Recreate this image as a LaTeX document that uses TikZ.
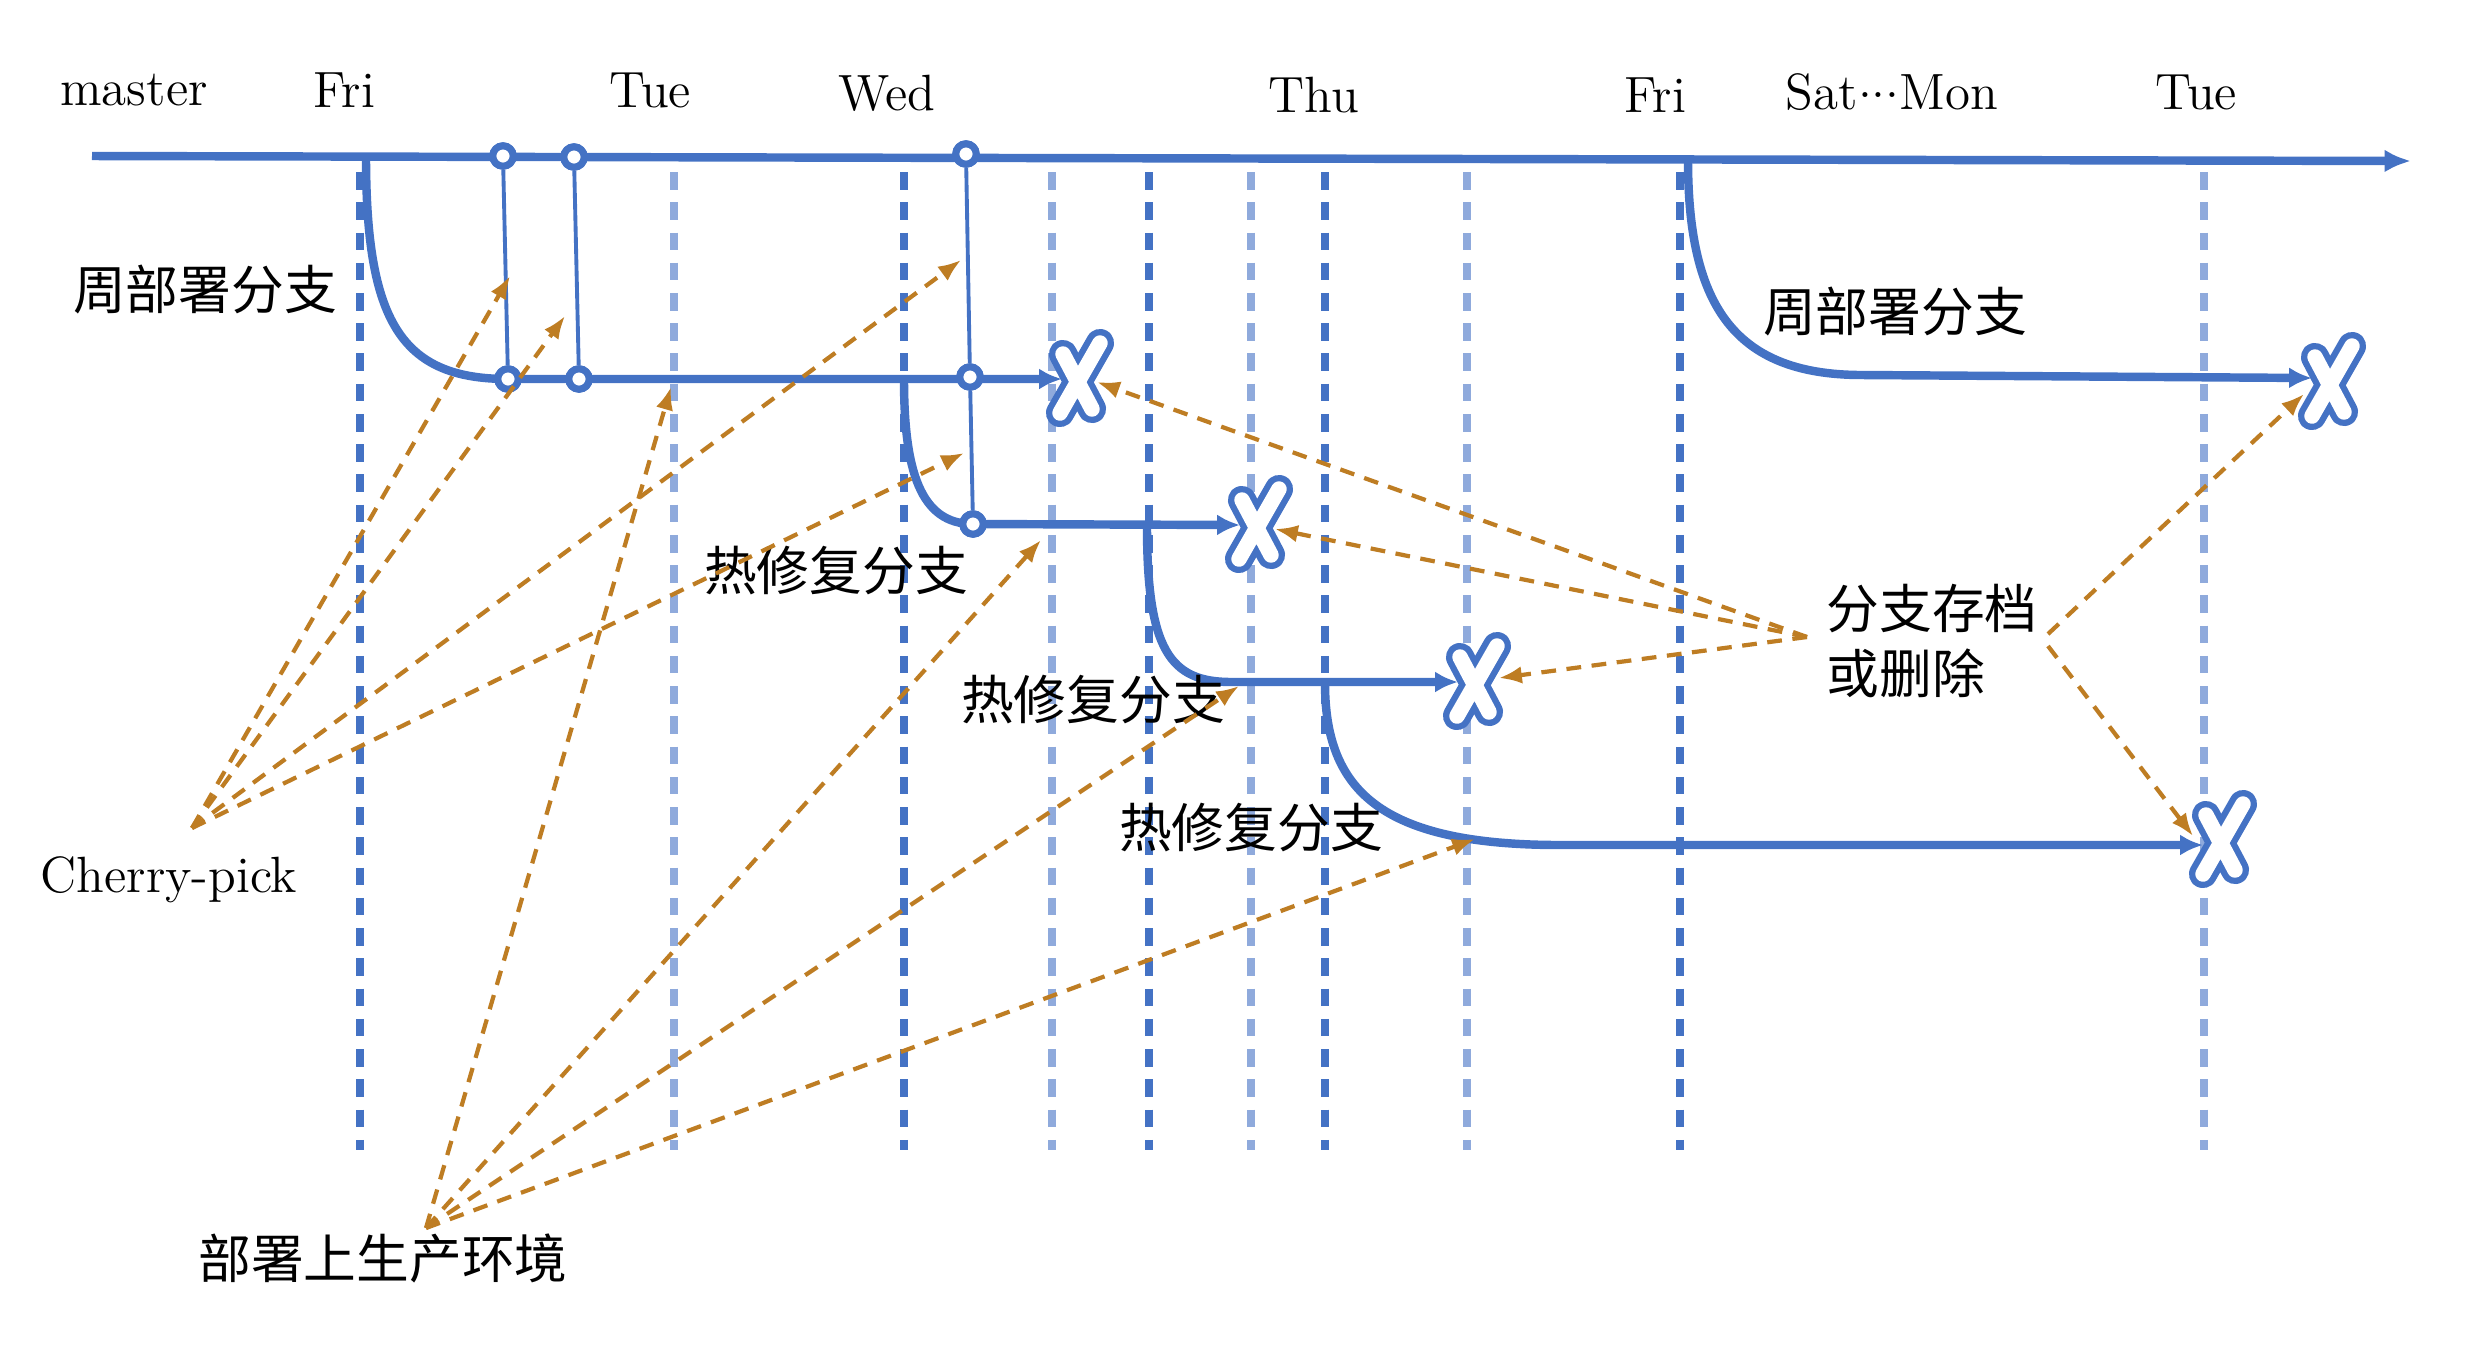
\documentclass[tikz,border=0pt]{standalone}
\usepackage{fontspec}
\newfontfamily\cjk{Noto Sans CJK SC}
\usetikzlibrary{arrows.meta}
\definecolor{dblue}{RGB}{68,114,196}
\definecolor{lblue}{RGB}{143,170,220}
\definecolor{gold}{RGB}{190,125,35}
\begin{document}
\begin{tikzpicture}[x=0.01cm,y=-0.01cm,
  vdark/.style={dblue, line width=2pt, dash pattern=on 5pt off 3.6pt},
  vlight/.style={lblue, line width=2pt, dash pattern=on 5pt off 3.6pt},
  mainline/.style={dblue, line width=2.4pt, -{Latex[length=7.5pt,width=6.5pt]}},
  branch/.style={dblue, line width=2.4pt},
  brarrow/.style={branch, -{Latex[length=6.5pt,width=6pt]}},
  link/.style={dblue, line width=1.1pt},
  commit/.style={circle, draw=dblue, fill=white, line width=2pt, minimum size=5.8pt, inner sep=0pt},
  pointer/.style={gold, line width=1.2pt, dash pattern=on 4.2pt off 3pt, -{Latex[length=6.5pt,width=5pt]}},
  lat/.style={font=\fontsize{14.5}{16}\selectfont, inner sep=0pt},
  zh/.style={font=\cjk\fontsize{15}{18.5}\selectfont, inner sep=0pt},
  xmark/.pic={
    \draw[dblue, line width=8pt, line cap=round, line join=round] (22,-36) -- (-18,34) (-15,-25) -- (14,30);
    \draw[white, line width=4.4pt, line cap=round, line join=round] (22,-36) -- (-18,34) (-15,-25) -- (14,30);
  }
]
\useasboundingbox (0,0) rectangle (2474,1344);

% vertical dashed day lines
\foreach \x/\s in {360/vdark, 674/vlight, 904/vdark, 1052/vlight, 1149/vdark, 1251/vlight, 1325/vdark, 1467/vlight, 1680/vdark, 2204/vlight}
  \draw[\s] (\x,172) -- (\x,1150);

% labels on top
\node[lat] (lmaster) at (134,90) {master};
\node[lat] (lfri1) at (344,90) {Fri};
\node[lat] (ltue1) at (650,90) {Tue};
\node[lat] (lwed) at (887,93) {Wed};
\node[lat] (lthu) at (1314,95) {Thu};
\node[lat] (lfri2) at (1655,95) {Fri};
\node[lat] (lsat) at (1892,92) {Sat\raisebox{.55ex}{.}\raisebox{.55ex}{.}\raisebox{.55ex}{.}Mon};
\node[lat] (ltue2) at (2196,92) {Tue};

% coordinates
\coordinate (mstart) at (92,156);
\coordinate (mend) at (2411,161);
\coordinate (w1s) at (366,156);
\coordinate (h1s) at (904,379);
\coordinate (h2s) at (1147,526);
\coordinate (h3s) at (1325,683);
\coordinate (w2s) at (1688,159);
\coordinate (X1) at (1078,379);
\coordinate (X2) at (1257,525);
\coordinate (X3) at (1475,682);
\coordinate (X4) at (2330,382);
\coordinate (X5) at (2221,840);

% master line
\draw[mainline] (mstart) -- (mend);

% commits
\node[commit] (m1) at (503,156) {};
\node[commit] (m2) at (574,157) {};
\node[commit] (m3) at (966,154) {};

% weekly branch 1
\draw[brarrow] (w1s) .. controls (366,320) and (400,379) .. (508,379) -- (1062,379);
% hotfix 1
\draw[brarrow] (h1s) .. controls (904,470) and (920,524) .. (973,524) -- (1240,525);
% hotfix 2
\draw[brarrow] (h2s) .. controls (1147,650) and (1170,682) .. (1231,682) -- (1458,682);
% hotfix 3
\draw[brarrow] (h3s) .. controls (1325,790) and (1380,845) .. (1560,845) -- (2203,845);
% weekly branch 2
\draw[brarrow] (w2s) .. controls (1688,300) and (1730,375) .. (1862,375) -- (2312,378);

\node[commit] (b1) at (508,379) {};
\node[commit] (b2) at (579,379) {};
\node[commit] (b3) at (970,377) {};
\node[commit] (h1) at (973,524) {};

% cherry-pick links
\draw[link] (m1) -- (b1);
\draw[link] (m2) -- (b2);
\draw[link] (m3) -- (b3) -- (h1);
\node[commit] at (m1) {};
\node[commit] at (m2) {};
\node[commit] at (m3) {};
\node[commit] at (b1) {};
\node[commit] at (b2) {};
\node[commit] at (b3) {};
\node[commit] at (h1) {};

% X marks
\foreach \p in {X1,X2,X3,X4,X5} \pic at (\p) {xmark};

% text labels
\node[zh] (zw1) at (205,289) {周部署分支};
\node[zh] (zh1) at (836,571) {热修复分支};
\node[zh] (zh2) at (1093,700) {热修复分支};
\node[zh] (zh3) at (1251,828) {热修复分支};
\node[zh] (zw2) at (1895,311) {周部署分支};
\node[zh, align=left, anchor=west] (zarch) at (1826,641) {分支存档\\或删除};
\node[lat] (lcp) at (169,880) {Cherry-pick};
\node[zh] (zdep) at (383,1258) {部署上生产环境};

% pointer sources
\coordinate (cp) at (192,828);
\coordinate (dp) at (426,1228);
\coordinate (al) at (1807,637);
\coordinate (ar1) at (2048,634);
\coordinate (ar2) at (2048,646);
% pointer targets
\coordinate (c1) at (510,276);
\coordinate (c2) at (565,316);
\coordinate (c3) at (961,260);
\coordinate (c4) at (964,453);
\coordinate (d1) at (671,387);
\coordinate (d2) at (1041,540);
\coordinate (d3) at (1239,686);
\coordinate (d4) at (1475,839);
\coordinate (a1) at (1097,382);
\coordinate (a2) at (1275,529);
\coordinate (a3) at (1499,678);
\coordinate (a4) at (2304,394);
\coordinate (a5) at (2193,836);

\foreach \t in {c1,c2,c3,c4} \draw[pointer] (cp) -- (\t);
\foreach \t in {d1,d2,d3,d4} \draw[pointer] (dp) -- (\t);
\foreach \t in {a1,a2,a3} \draw[pointer] (al) -- (\t);
\draw[pointer] (ar1) -- (a4);
\draw[pointer] (ar2) -- (a5);
\end{tikzpicture}
\end{document}
